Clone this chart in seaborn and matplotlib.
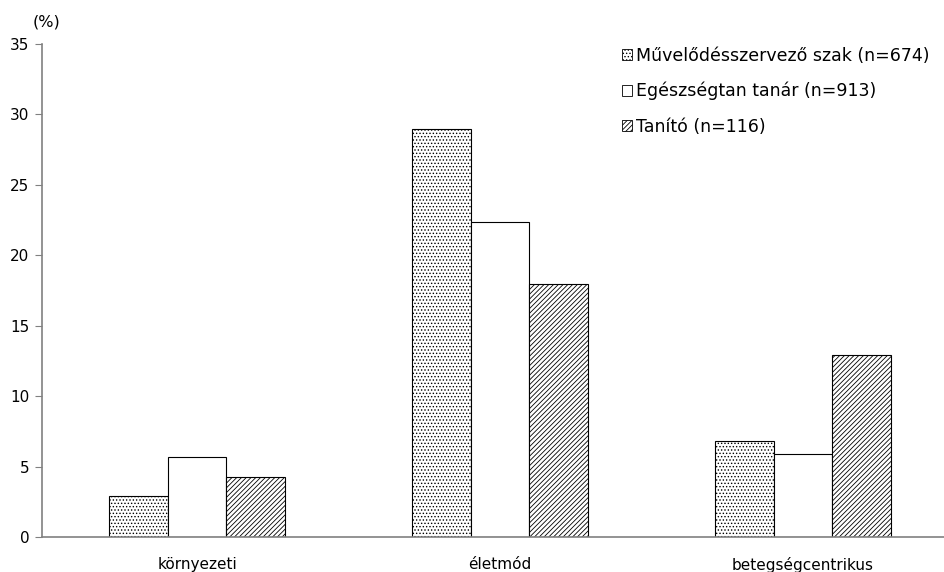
import pandas as pd
import seaborn as sns
import matplotlib.pyplot as plt
from matplotlib.patches import Patch

categories = ['környezeti', 'életmód', 'betegségcentrikus']
groups = ['Művelődésszervező szak (n=674)', 'Egészségtan tanár (n=913)', 'Tanító (n=116)']
muvelodes = [2.9, 29.0, 6.8]
egeszsegtan = [5.7, 22.4, 5.9]
tanito = [4.3, 18.0, 12.9]

df = pd.DataFrame({
    'kategoria': categories * 3,
    'csoport': [groups[0]] * 3 + [groups[1]] * 3 + [groups[2]] * 3,
    'ertek': muvelodes + egeszsegtan + tanito,
})

sns.set_style('white')
plt.rcParams['font.family'] = ['DejaVu Sans']
plt.rcParams['hatch.linewidth'] = 0.6
plt.rcParams['text.color'] = 'black'
plt.rcParams['xtick.labelcolor'] = 'black'
plt.rcParams['ytick.labelcolor'] = 'black'

fig, ax = plt.subplots(figsize=(9.44, 5.72), dpi=100)
fig.subplots_adjust(left=0.0445, right=1.0, top=0.923, bottom=0.061)

sns.barplot(data=df, x='kategoria', y='ertek', hue='csoport', order=categories,
            hue_order=groups, palette=['white'] * 3, edgecolor='black',
            linewidth=0.8, width=0.58, gap=0, legend=False, ax=ax)

# mintázat a sorozatokra
hatches = ['.....', '', '///////']
for cont, h in zip(ax.containers, hatches):
    for bar in cont:
        bar.set_hatch(h)

ax.set_ylim(0, 35)
ax.set_yticks(range(0, 36, 5))
ax.set_xlim(-0.512, 2.465)
ax.set_xlabel('')
ax.set_ylabel('')
ax.tick_params(axis='y', direction='out', length=5, width=0.8, color='#808080',
               labelsize=11, pad=4, left=True)
ax.tick_params(axis='x', length=0, labelsize=11, pad=14)
for s in ['top', 'right']:
    ax.spines[s].set_visible(False)
for s in ['left', 'bottom']:
    ax.spines[s].set_color('#808080')
    ax.spines[s].set_linewidth(1.2)

ax.text(-0.01, 1.03, '(%)', transform=ax.transAxes, fontsize=11.5, ha='left', va='bottom')

handles = [Patch(facecolor='white', edgecolor='black', hatch=h, linewidth=0.6) for h in hatches]
ax.legend(handles, groups, loc='upper left', bbox_to_anchor=(0.643, 0.995), frameon=False,
          fontsize=12.5, handlelength=0.6, handleheight=0.6, handletextpad=0.2,
          labelspacing=1.0, borderaxespad=0, borderpad=0)

fig.savefig('out.png', dpi=100)
